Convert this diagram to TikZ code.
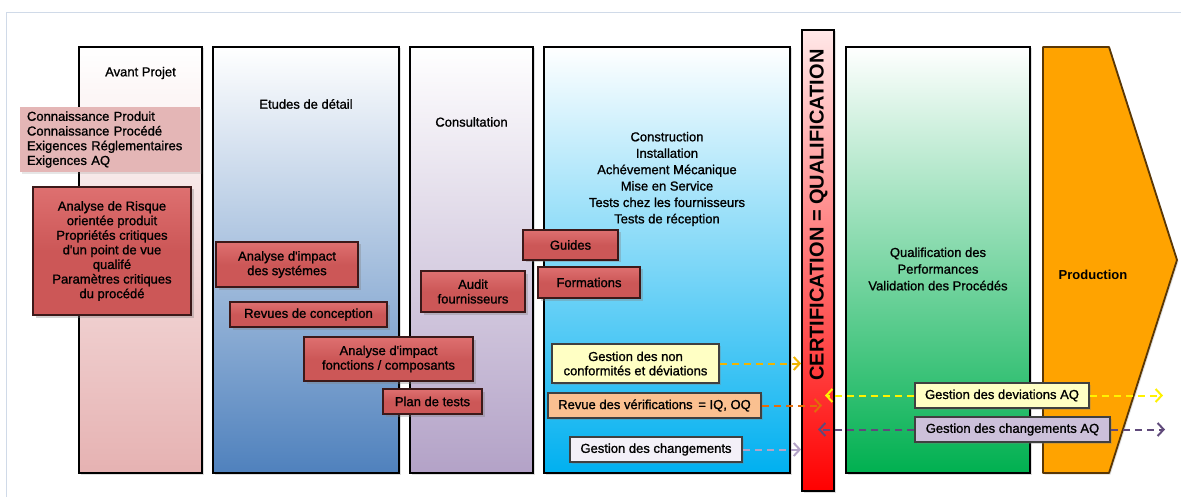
\documentclass[tikz,border=0pt]{standalone}
\usepackage{fontspec}
\setmainfont{Liberation Sans}
\newfontfamily\epais{Liberation Sans}[FakeBold=1.1]
\usetikzlibrary{shadows,arrows.meta}

\definecolor{rosepale}{RGB}{230,178,178}
\definecolor{bleuetude}{RGB}{79,129,189}
\definecolor{lavande}{RGB}{179,162,199}
\definecolor{cyanconst}{RGB}{0,176,240}
\definecolor{vertqualif}{RGB}{0,176,80}
\definecolor{orangeprod}{RGB}{255,163,0}
\definecolor{brunprod}{RGB}{90,55,5}
\definecolor{rouge}{RGB}{204,87,87}
\definecolor{rougeclair}{RGB}{222,112,112}
\definecolor{bordrouge}{RGB}{60,25,25}
\definecolor{notepink}{RGB}{228,182,182}
\definecolor{jaunepale}{RGB}{255,255,196}
\definecolor{peche}{RGB}{250,192,144}
\definecolor{lilas}{RGB}{243,240,248}
\definecolor{mauve}{RGB}{204,192,218}
\definecolor{ocre}{RGB}{240,180,0}
\definecolor{orangefonce}{RGB}{227,108,10}
\definecolor{violet}{RGB}{96,74,123}
\definecolor{cadre}{RGB}{208,218,232}

\tikzset{
    phase/.style={draw=black, line width=1.8pt, inner sep=0pt, top color=white,
        drop shadow={shadow xshift=1.5pt, shadow yshift=-1.5pt, opacity=.25}},
    titre/.style={align=center, font=\epais\fontsize{13}{16.4}\selectfont},
    tache/.style={draw=bordrouge, line width=1.8pt, align=center, inner sep=0pt,
        top color=rougeclair, bottom color=rouge, middle color=rouge,
        font=\epais\fontsize{13}{14.6}\selectfont,
        drop shadow={shadow xshift=2.5pt, shadow yshift=-2.5pt, opacity=.35}},
    gestion/.style={draw=black!75, line width=1.8pt, align=center, inner sep=0pt,
        font=\epais\fontsize{13}{14.3}\selectfont,
        drop shadow={shadow xshift=2pt, shadow yshift=-2pt, opacity=.3}},
    lien/.style={dash pattern=on 7pt off 5pt, line width=2pt,
        -{Straight Barb[length=6pt,width=13pt,line width=2pt]}}
}

\begin{document}
\begin{tikzpicture}[x=1pt, y=-1pt]
    \useasboundingbox (0,0) rectangle (1181,497);
    \draw[cadre, line width=1pt] (6,497) -- (6,13) -- (1181,13);

    % phases
    \node[phase, bottom color=rosepale, minimum width=123pt, minimum height=426pt] (avant) at (140.5,260) {};
    \node[phase, bottom color=bleuetude, minimum width=186pt, minimum height=426pt] (etudes) at (306,260) {};
    \node[phase, bottom color=lavande, minimum width=123pt, minimum height=426pt] (consult) at (471.5,260) {};
    \node[phase, bottom color=cyanconst, minimum width=246pt, minimum height=426pt] (constr) at (667,260) {};
    \node[phase, top color={rgb,255:red,255;green,232;blue,232}, bottom color=red,
        minimum width=32pt, minimum height=461pt] (certif) at (818,260.5) {};
    \node[phase, bottom color=vertqualif, minimum width=184pt, minimum height=426pt] (qualif) at (938,260) {};
    \draw[draw=brunprod, fill=orangeprod, line width=1.8pt, line join=round,
        drop shadow={shadow xshift=1.5pt, shadow yshift=-1.5pt, opacity=.25}]
        (1043,47) -- (1109,47) -- (1177,260) -- (1109,473) -- (1043,473) -- cycle;

    \node[titre] (tavant) at (140.5,73) {Avant Projet};
    \node[titre] (tetudes) at (306,104) {Etudes de détail};
    \node[titre] (tconsult) at (471.5,122) {Consultation};
    \node[titre] (tconstr) at (667,179) {Construction\\Installation\\Achévement Mécanique\\Mise en Service\\Tests chez les fournisseurs\\Tests de réception};
    \node[titre, font=\epais\fontsize{13}{16.7}\selectfont] (tqualif) at (938,269) {Qualification des\\Performances\\Validation des Procédés};
    \node[titre, font=\bfseries\fontsize{13}{16}\selectfont] (tprod) at (1093,275) {Production};
    \node[rotate=90, font=\bfseries\fontsize{20}{20}\selectfont] (tcertif) at (818.5,215) {CERTIFICATION = QUALIFICATION};

    % entrees
    \node[fill=notepink, text width=166pt, inner xsep=7pt, inner ysep=0pt, minimum height=65pt,
        align=left, font=\epais\fontsize{13}{14.7}\selectfont,
        drop shadow={shadow xshift=2pt, shadow yshift=-2pt, opacity=.2}] (connaissance) at (110,139.5)
        {Connaissance Produit\\Connaissance Procédé\\Exigences Réglementaires\\Exigences AQ};

    % taches
    \node[tache, minimum width=158pt, minimum height=128pt] (risque) at (112,251)
        {Analyse de Risque\\orientée produit\\Propriétés critiques\\d'un point de vue\\qualifé\\Paramètres critiques\\du procédé};
    \node[tache, minimum width=142pt, minimum height=45pt] (impactsys) at (287,264.5) {Analyse d'impact\\des systémes};
    \node[tache, minimum width=157pt, minimum height=25pt] (revues) at (308.5,314.5) {Revues de conception};
    \node[tache, minimum width=169pt, minimum height=44pt] (impactfc) at (388.5,359) {Analyse d'impact\\fonctions / composants};
    \node[tache, minimum width=99pt, minimum height=25pt] (plan) at (432.5,401.5) {Plan de tests};
    \node[tache, minimum width=104pt, minimum height=41pt] (audit) at (473,291.5) {Audit\\fournisseurs};
    \node[tache, minimum width=95pt, minimum height=30pt] (guides) at (570.5,245) {Guides};
    \node[tache, minimum width=102pt, minimum height=31pt] (formations) at (589,282.5) {Formations};

    % gestion
    \node[gestion, fill=jaunepale, minimum width=167pt, minimum height=39pt] (nonconf) at (635.5,363.5) {Gestion des non\\conformités et déviations};
    \node[gestion, fill=peche, minimum width=213pt, minimum height=25pt] (verif) at (654.5,405.5) {Revue des vérifications \,= IQ, OQ};
    \node[gestion, fill=lilas, minimum width=172pt, minimum height=25pt] (changements) at (656,449.5) {Gestion des changements};
    \node[gestion, fill=jaunepale, minimum width=174pt, minimum height=25pt] (deviationsAQ) at (1002,395.5) {Gestion des deviations AQ};
    \node[gestion, fill=mauve, minimum width=195pt, minimum height=25pt] (changementsAQ) at (1012.5,429.5) {Gestion des changements AQ};

    \coordinate (verifbout) at (822,405.5);
    \coordinate (devgauche) at (825,395.5);
    \coordinate (devdroite) at (1163,395.5);
    \coordinate (chggauche) at (818,429.5);
    \coordinate (chgdroite) at (1165,429.5);

    \draw[lien, ocre] (nonconf.east) -- (certif.west |- nonconf.east);
    \draw[lien, orangefonce] (verif.east) -- (verifbout);
    \draw[lien, lavande] (changements.east) -- (certif.west |- changements.east);
    \draw[lien, yellow] (deviationsAQ.west) -- (devgauche);
    \draw[lien, yellow] (deviationsAQ.east) -- (devdroite);
    \draw[lien, violet] (changementsAQ.west) -- (chggauche);
    \draw[lien, violet] (changementsAQ.east) -- (chgdroite);
\end{tikzpicture}
\end{document}
